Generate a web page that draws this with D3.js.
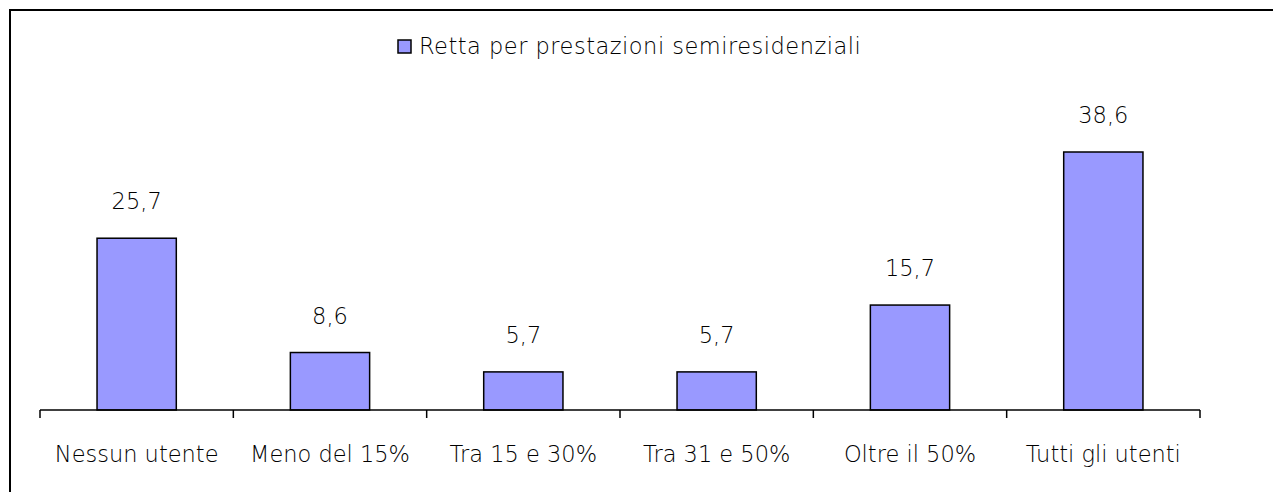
<!DOCTYPE html>
<html>
<head>
<meta charset="utf-8">
<script src="https://cdn.jsdelivr.net/npm/d3@7"></script>
<style>
  body { margin: 0; background: #fff; }
  text { font-family: "DejaVu Sans", sans-serif; font-weight: 200; fill: #000; font-size: 22.5px; }
</style>
</head>
<body>
<div id="chart-div"></div>
<script>
// Script globals
const CHART_WIDTH = 1273
const CHART_HEIGHT = 492

const categories = ["Nessun utente", "Meno del 15%", "Tra 15 e 30%", "Tra 31 e 50%", "Oltre il 50%", "Tutti gli utenti"]
const values = [25.7, 8.6, 5.7, 5.7, 15.7, 38.6]
const seriesName = "Retta per prestazioni semiresidenziali"

const fmt = (v) => d3.format(".1f")(v).replace(".", ",")

init();

function init () {
  const svg = d3.select("#chart-div").append("svg")
    .attr("width", CHART_WIDTH)
    .attr("height", CHART_HEIGHT)

  // outer frame (right and bottom edges fall outside the window)
  svg.append("rect")
    .attr("x", 10).attr("y", 10)
    .attr("width", 1300).attr("height", 520)
    .attr("fill", "none")
    .attr("stroke", "#000")
    .attr("stroke-width", 2)

  const marginLeft = 40
  const marginRight = 73
  const baseline = 410

  const x = d3.scaleBand()
    .domain(categories)
    .range([marginLeft, CHART_WIDTH - marginRight])
    .paddingInner(0.59)
    .paddingOuter(0.295)

  const xTicks = d3.scaleBand()
    .domain(categories)
    .range([marginLeft, CHART_WIDTH - marginRight])

  const y = d3.scaleLinear()
    .domain([0, 38.6])
    .range([baseline, 152])

  // bars
  svg.selectAll("rect.bar")
    .data(values)
    .enter().append("rect")
      .attr("class", "bar")
      .attr("x", (d, i) => x(categories[i]))
      .attr("y", (d) => y(d))
      .attr("width", x.bandwidth())
      .attr("height", (d) => baseline - y(d))
      .attr("fill", "#9999ff")
      .attr("stroke", "#000")
      .attr("stroke-width", 1.5)

  // value labels
  svg.selectAll("text.val")
    .data(values)
    .enter().append("text")
      .attr("class", "val")
      .attr("x", (d, i) => x(categories[i]) + x.bandwidth() / 2)
      .attr("y", (d) => y(d) - 29)
      .attr("text-anchor", "middle")
      .text((d) => fmt(d))

  // x axis with ticks between categories
  const axis = svg.append("g").attr("class", "xAxis")
  axis.append("line")
    .attr("x1", marginLeft).attr("x2", CHART_WIDTH - marginRight)
    .attr("y1", baseline).attr("y2", baseline)
    .attr("stroke", "#000").attr("stroke-width", 1.5)

  const tickPos = categories.map((c) => xTicks(c)).concat([CHART_WIDTH - marginRight])
  axis.selectAll("line.tick")
    .data(tickPos)
    .enter().append("line")
      .attr("class", "tick")
      .attr("x1", (d) => d).attr("x2", (d) => d)
      .attr("y1", baseline).attr("y2", baseline + 8)
      .attr("stroke", "#000").attr("stroke-width", 1.5)

  axis.selectAll("text.cat")
    .data(categories)
    .enter().append("text")
      .attr("class", "cat")
      .attr("x", (d) => xTicks(d) + xTicks.bandwidth() / 2)
      .attr("y", 462)
      .attr("text-anchor", "middle")
      .text((d) => d)

  // legend
  const legend = svg.append("g").attr("class", "legend")
  legend.append("rect")
    .attr("x", 398).attr("y", 40)
    .attr("width", 13).attr("height", 13)
    .attr("fill", "#9999ff")
    .attr("stroke", "#000").attr("stroke-width", 1.5)
  legend.append("text")
    .attr("x", 419).attr("y", 54)
    .style("letter-spacing", "0.5px")
    .text(seriesName)
}
</script>
</body>
</html>
